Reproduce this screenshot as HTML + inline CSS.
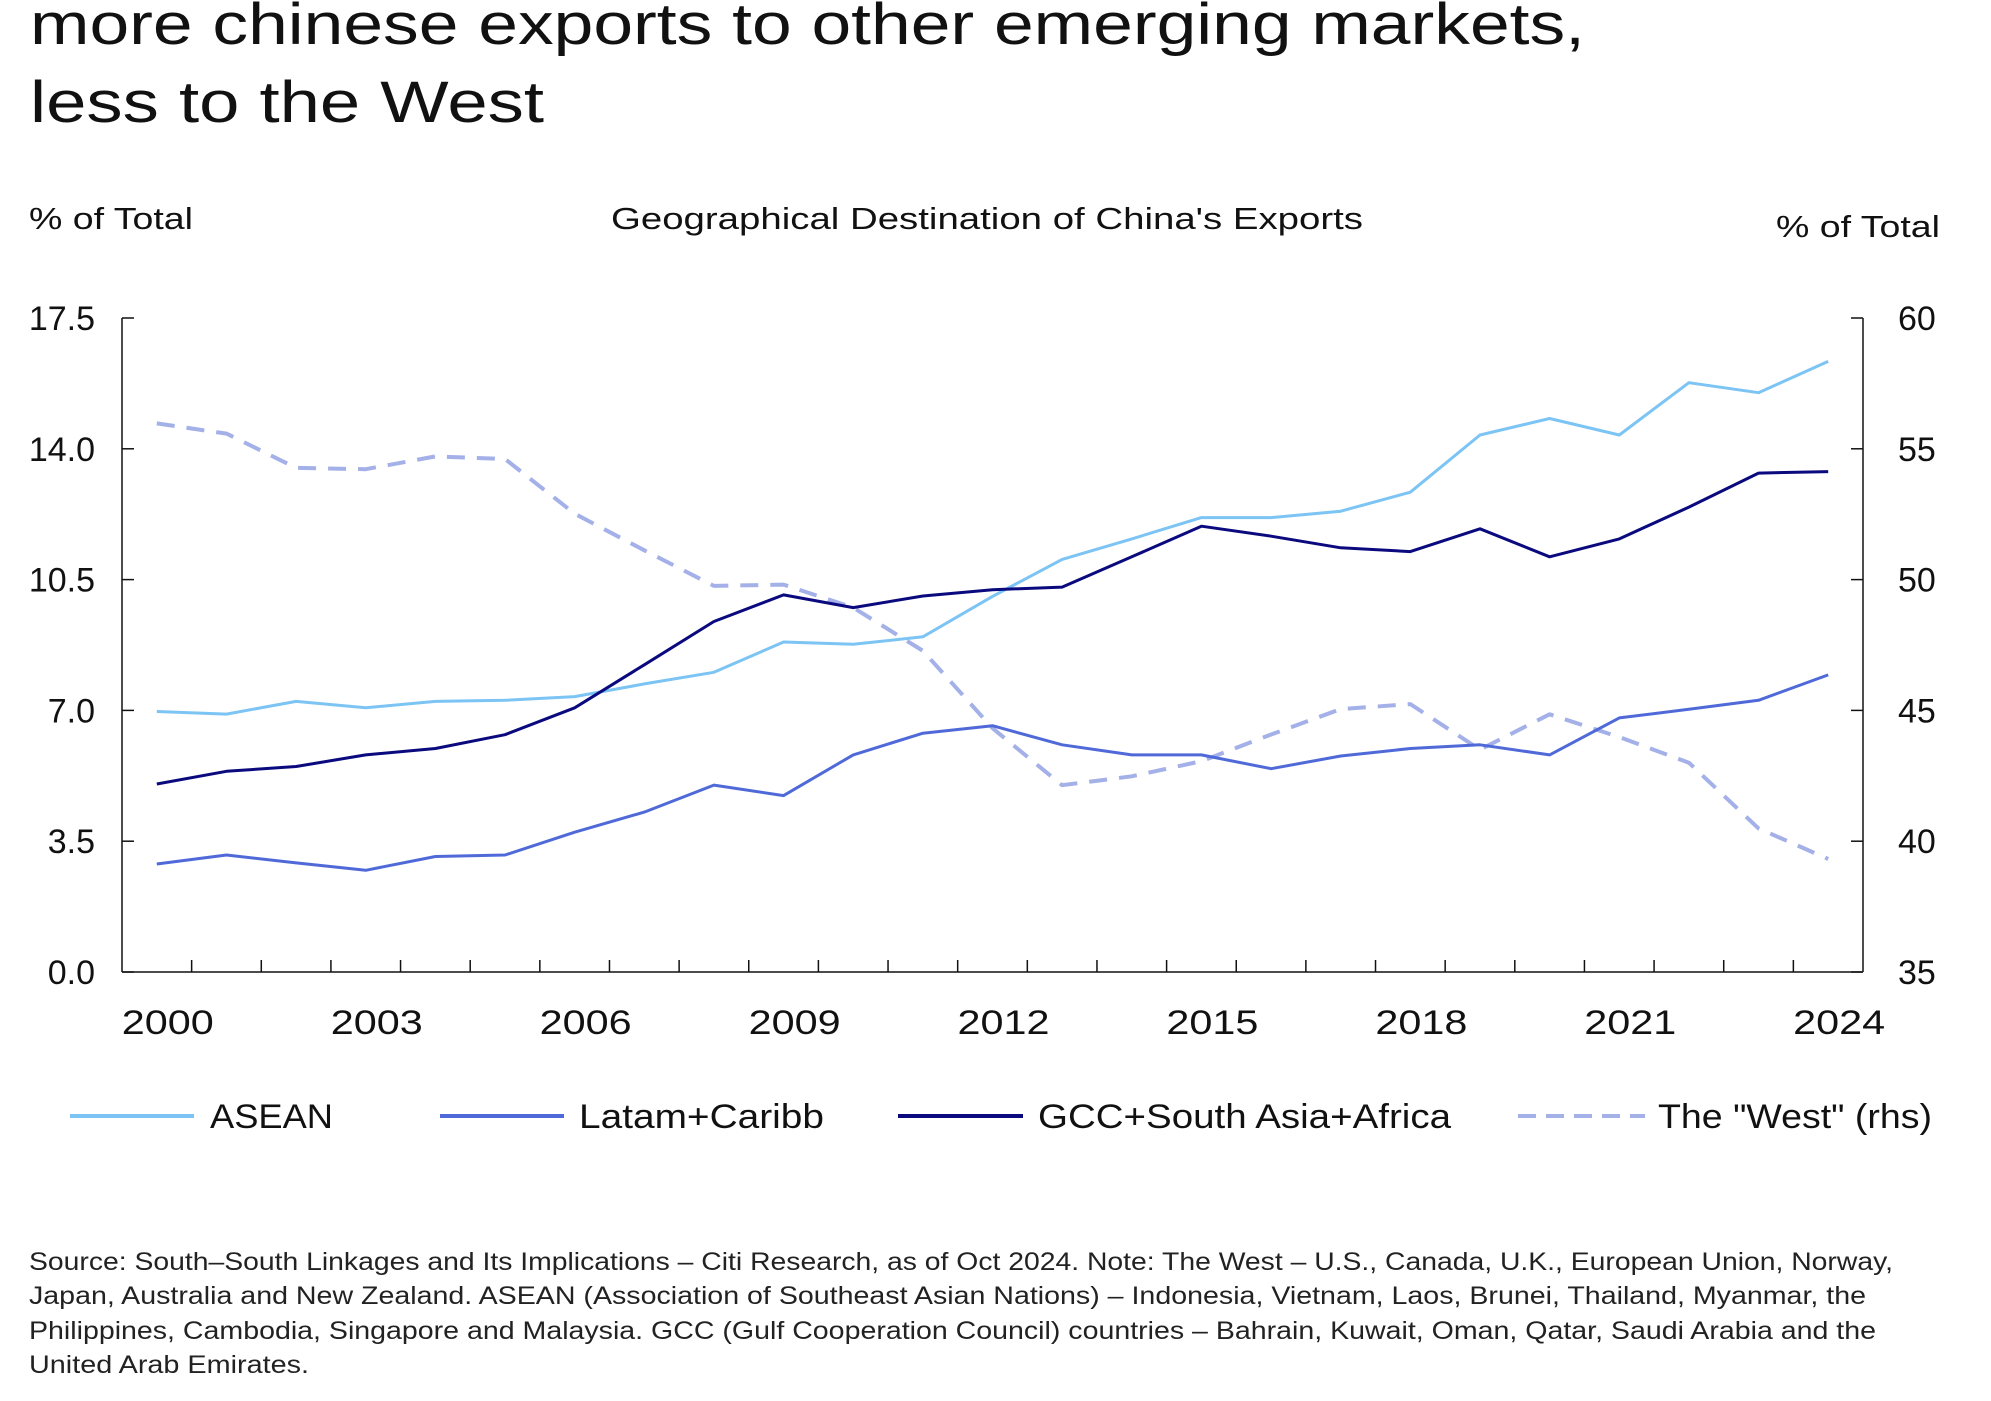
<!DOCTYPE html>
<html><head><meta charset="utf-8"><style>
html,body{margin:0;padding:0;background:#fff;}
svg{display:block;font-family:"Liberation Sans",sans-serif;}
</style></head><body>
<svg id="chart" width="1991" height="1401" viewBox="0 0 1991 1401">
<text x="30" y="44" font-size="58" fill="#111" textLength="1555" lengthAdjust="spacingAndGlyphs">more chinese exports to other emerging markets,</text>
<text x="30" y="122" font-size="58" fill="#111" textLength="514" lengthAdjust="spacingAndGlyphs">less to the West</text>
<text x="29" y="229" font-size="31" fill="#111" textLength="164" lengthAdjust="spacingAndGlyphs">% of Total</text>
<text x="611" y="229" font-size="31" fill="#111" textLength="752" lengthAdjust="spacingAndGlyphs">Geographical Destination of China's Exports</text>
<text x="1776" y="237" font-size="31" fill="#111" textLength="164" lengthAdjust="spacingAndGlyphs">% of Total</text>
<g id="axes"></g>
<g id="series"></g>
<g>
<line x1="70" y1="1116" x2="194" y2="1116" stroke="#7cc4f4" stroke-width="4"/>
<text x="210" y="1128" font-size="34" fill="#111" textLength="123" lengthAdjust="spacingAndGlyphs">ASEAN</text>
<line x1="440" y1="1116" x2="564" y2="1116" stroke="#4f6ad8" stroke-width="4"/>
<text x="579" y="1128" font-size="34" fill="#111" textLength="245" lengthAdjust="spacingAndGlyphs">Latam+Caribb</text>
<line x1="898" y1="1116" x2="1023" y2="1116" stroke="#0a0a7e" stroke-width="4"/>
<text x="1038" y="1128" font-size="34" fill="#111" textLength="413" lengthAdjust="spacingAndGlyphs">GCC+South Asia+Africa</text>
<line x1="1518" y1="1116" x2="1645" y2="1116" stroke="#a4b0e8" stroke-width="4" stroke-dasharray="18,10"/>
<text x="1658" y="1128" font-size="34" fill="#111" textLength="274" lengthAdjust="spacingAndGlyphs">The "West" (rhs)</text>
</g>
<g font-size="25" fill="#222">
<text x="29" y="1270" textLength="1864" lengthAdjust="spacingAndGlyphs">Source: South–South Linkages and Its Implications – Citi Research, as of Oct 2024. Note: The West – U.S., Canada, U.K., European Union, Norway,</text>
<text x="29" y="1304" textLength="1837" lengthAdjust="spacingAndGlyphs">Japan, Australia and New Zealand. ASEAN (Association of Southeast Asian Nations) – Indonesia, Vietnam, Laos, Brunei, Thailand, Myanmar, the</text>
<text x="29" y="1339" textLength="1847" lengthAdjust="spacingAndGlyphs">Philippines, Cambodia, Singapore and Malaysia. GCC (Gulf Cooperation Council) countries – Bahrain, Kuwait, Oman, Qatar, Saudi Arabia and the</text>
<text x="29" y="1373" textLength="280" lengthAdjust="spacingAndGlyphs">United Arab Emirates.</text>
</g>
</svg>
<script>
const years = [2000,2001,2002,2003,2004,2005,2006,2007,2008,2009,2010,2011,2012,2013,2014,2015,2016,2017,2018,2019,2020,2021,2022,2023,2024];
const xTickLabels = [2000,2003,2006,2009,2012,2015,2018,2021,2024];
const leftTicks = [0.0,3.5,7.0,10.5,14.0,17.5];
const rightTicks = [35,40,45,50,55,60];
const asean = [6.97,6.9,7.24,7.07,7.24,7.27,7.37,7.71,8.02,8.83,8.77,8.97,10.05,11.04,11.59,12.16,12.16,12.33,12.84,14.37,14.81,14.37,15.77,15.5,16.34];
const latam = [2.89,3.13,2.92,2.72,3.09,3.13,3.74,4.28,5.0,4.72,5.81,6.39,6.59,6.08,5.81,5.81,5.44,5.78,5.98,6.08,5.81,6.8,7.03,7.27,7.95];
const gcc = [5.03,5.37,5.5,5.81,5.98,6.35,7.07,8.22,9.38,10.09,9.75,10.06,10.23,10.3,11.11,11.93,11.66,11.35,11.25,11.86,11.11,11.59,12.44,13.35,13.39];
const west = [55.97,55.58,54.27,54.22,54.71,54.61,52.52,51.12,49.76,49.81,48.93,47.28,44.32,42.14,42.48,43.06,44.08,45.05,45.24,43.5,44.85,43.98,43.0,40.49,39.32];

const NS='http://www.w3.org/2000/svg';
const L=122,R=1863,T=318,B=972;
const band=(R-L)/years.length;
const x=i=>L+band*(i+0.5);
const yL=v=>B-(v-0)/(17.5-0)*(B-T);
const yR=v=>B-(v-35)/(60-35)*(B-T);
function mk(tag,attrs,parent){const e=document.createElementNS(NS,tag);for(const k in attrs)e.setAttribute(k,attrs[k]);parent.appendChild(e);return e;}
const ax=document.getElementById('axes');
let e;
e=mk('line',{x1:L,y1:T,x2:L,y2:B,stroke:'#111','stroke-width':1.5},ax);


e=mk('line',{x1:R,y1:T,x2:R,y2:B,stroke:'#111','stroke-width':1.5},ax);


e=mk('line',{x1:L,y1:B,x2:R,y2:B,stroke:'#111','stroke-width':1.5},ax);


for(let i=1;i<years.length;i++){
  e=mk('line',{x1:L+band*i,y1:B,x2:L+band*i,y2:B-12,stroke:'#111','stroke-width':1.5},ax);
  
  
}
leftTicks.forEach(v=>{
  e=mk('line',{x1:L,y1:yL(v),x2:L+12,y2:yL(v),stroke:'#111','stroke-width':1.5},ax);
  
  
  e=mk('text',{x:95,y:yL(v)+12,'font-size':34,'text-anchor':'end',fill:'#111'},ax);
  e.textContent=v.toFixed(1);
  
  
});
rightTicks.forEach(v=>{
  e=mk('line',{x1:R-12,y1:yR(v),x2:R,y2:yR(v),stroke:'#111','stroke-width':1.5},ax);
  
  
  e=mk('text',{x:1898,y:yR(v)+12,'font-size':34,fill:'#111'},ax);
  e.textContent=v;
  
  
});
xTickLabels.forEach(yr=>{
  const i=years.indexOf(yr);
  e=mk('text',{x:x(i)-35,y:1034,'font-size':34,fill:'#111',textLength:92,lengthAdjust:'spacingAndGlyphs'},ax);
  e.textContent=yr;
  
  
});
const sg=document.getElementById('series');
function line(vals,fy,color,name,dash){
  const d=vals.map((v,i)=>(i?'L':'M')+x(i).toFixed(1)+','+fy(v).toFixed(1)).join(' ');
  const p=mk('path',{d:d,fill:'none',stroke:color,'stroke-width':dash?4:3,'stroke-linejoin':'round'},sg);
  if(dash)p.setAttribute('stroke-dasharray','18,12');
  
  
}
line(west,yR,'#a4b0e8','series-west-line',true);
line(latam,yL,'#4f6ad8','series-latam-line',false);
line(asean,yL,'#7cc4f4','series-asean-line',false);
line(gcc,yL,'#0a0a7e','series-gcc-line',false);
</script>
</body></html>
